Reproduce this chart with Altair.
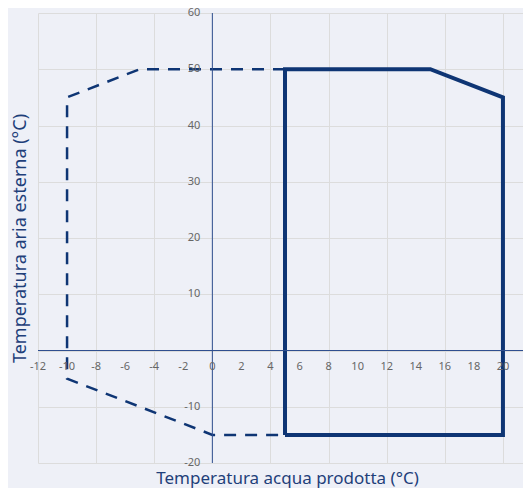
import altair as alt
import pandas as pd

# ---- data ----
solid_x = [5, 5, 15, 20, 20, 5]
solid_y = [-15, 50, 50, 45, -15, -15]
dash_x = [5, -5, -10, -10, 0, 5]
dash_y = [50, 50, 45, -5, -15, -15]
x_ticks = [-12, -10, -8, -6, -4, -2, 0, 2, 4, 6, 8, 10, 12, 14, 16, 18, 20, 22]
y_ticks = [60, 50, 40, 30, 20, 10, -10, -20]
x_grid = [-12, -10, -8, -6, -4, -2, 0, 2, 4, 6, 8, 10, 12, 14, 16, 18, 20]
y_grid = [-20, -10, 0, 10, 20, 30, 40, 50, 60]
x_title = "Temperatura acqua prodotta (°C)"
y_title = "Temperatura aria esterna (°C)"

X_DOMAIN = [-12, 21.38]
Y_DOMAIN = [-20, 60]

NAVY = "#0e3574"
AXIS = "#2f4f8f"
TITLE = "#1f3f7a"
LABEL = "#666666"
FONT = "Noto Sans"

xs = alt.Scale(domain=X_DOMAIN, nice=False, zero=False)
ys = alt.Scale(domain=Y_DOMAIN, nice=False, zero=False)

solid_df = pd.DataFrame({"x": solid_x, "y": solid_y, "o": list(range(len(solid_x)))})
dash_df = pd.DataFrame({"x": dash_x, "y": dash_y, "o": list(range(len(dash_x)))})
xlab_df = pd.DataFrame({"x": x_ticks, "y": [0] * len(x_ticks), "label": [str(v) for v in x_ticks]})
ylab_df = pd.DataFrame({"x": [0] * len(y_ticks), "y": y_ticks, "label": [str(v) for v in y_ticks]})
xaxis_df = pd.DataFrame({"x": [X_DOMAIN[0]], "x2": [x_ticks[-1]], "y": [0]})
yaxis_df = pd.DataFrame({"x": [0], "y": [Y_DOMAIN[0]], "y2": [Y_DOMAIN[1]]})

x_axis = alt.Axis(grid=True, values=x_grid, labels=False, ticks=False, domain=False,
                  title=x_title, titleFont=FONT, titleFontSize=17, titleFontWeight="normal",
                  titleColor=TITLE, titlePadding=7, titleX=249,
                  gridColor="#dcdcdc", gridWidth=1)
y_axis = alt.Axis(grid=True, values=y_grid, labels=False, ticks=False, domain=False,
                  title=y_title, titleFont=FONT, titleFontSize=18, titleFontWeight="normal",
                  titleColor=TITLE, titlePadding=9, gridColor="#dcdcdc", gridWidth=1)

dashed = alt.Chart(dash_df).mark_line(color=NAVY, strokeWidth=2.5, strokeDash=[12, 9]).encode(
    x=alt.X("x:Q", scale=xs, axis=x_axis),
    y=alt.Y("y:Q", scale=ys, axis=y_axis),
    order="o:Q",
)

solid = alt.Chart(solid_df).mark_line(color=NAVY, strokeWidth=4).encode(
    x=alt.X("x:Q", scale=xs),
    y=alt.Y("y:Q", scale=ys),
    order="o:Q",
)

xrule = alt.Chart(xaxis_df).mark_rule(color=AXIS, strokeWidth=1, clip=True).encode(
    x=alt.X("x:Q", scale=xs), x2="x2:Q", y=alt.Y("y:Q", scale=ys)
)
yrule = alt.Chart(yaxis_df).mark_rule(color=AXIS, strokeWidth=1).encode(
    x=alt.X("x:Q", scale=xs), y=alt.Y("y:Q", scale=ys), y2="y2:Q"
)

xlabels = alt.Chart(xlab_df).mark_text(font=FONT, fontSize=11, color=LABEL, dy=16,
                                       align="center", baseline="middle").encode(
    x=alt.X("x:Q", scale=xs), y=alt.Y("y:Q", scale=ys), text="label:N"
)
ylabels = alt.Chart(ylab_df).mark_text(font=FONT, fontSize=11, color=LABEL, dx=-12,
                                       align="right", baseline="middle").encode(
    x=alt.X("x:Q", scale=xs), y=alt.Y("y:Q", scale=ys), text="label:N"
)

chart = alt.layer(dashed, solid, xrule, yrule, xlabels, ylabels).properties(
    width=485, height=450,
    autosize=alt.AutoSizeParams(type="none"),
    padding={"left": 30, "top": 5, "right": 0, "bottom": 25},
    background="#eef0f7",
).configure_view(stroke=None)

chart.save("out.html", embed_options={"renderer": "svg", "actions": False})
